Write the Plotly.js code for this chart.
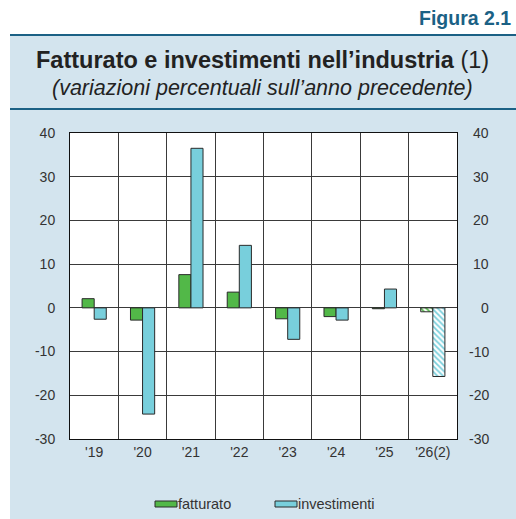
<!DOCTYPE html>
<html>
<head>
<meta charset="utf-8">
<script src="https://cdn.plot.ly/plotly-3.0.1.min.js"></script>
<style>
html,body{margin:0;padding:0;background:#fff;}
#chart{width:516px;height:519px;}
</style>
</head>
<body>
<div id="chart"></div>
<script>
// ---- data ----
const categories = ["'19", "'20", "'21", "'22", "'23", "'24", "'25", "'26(2)"];
const fatturato = [2.1, -2.8, 7.6, 3.6, -2.5, -2.0, -0.2, -0.9];
const investimenti = [-2.6, -24.3, 36.5, 14.3, -7.2, -2.8, 4.3, -15.7];
const forecast = [false, false, false, false, false, false, false, true];
const yTickVals = [-30, -20, -10, 0, 10, 20, 30, 40];
const yTickText = ["-30", "-20", "-10", "0", "10", "20", "30", "40"];
const seriesNames = ["fatturato", "investimenti"];

// ---- style ----
const W = 516, H = 519;
const M = {l: 70, r: 59, t: 133, b: 80};
const PW = W - M.l - M.r, PH = H - M.t - M.b;
const xp = px => (px - M.l) / PW;
const yp = py => (H - M.b - py) / PH;
const GREEN = '#52b848', BLUE = '#78cfdc', EDGE = '#2a2a2a';
const BG = '#d3e4ee', TEAL = '#1b6185', TXT = '#333333';
const FONT = 'Liberation Sans, Arial, sans-serif';
const TICK = 14;

function barTrace(name, vals, color) {
  return {
    type: 'bar', name: name, x: categories, y: vals,
    marker: {
      color: color,
      line: {color: EDGE, width: 1},
      pattern: {
        shape: forecast.map(f => f ? '\\' : ''),
        fgcolor: color, bgcolor: 'white', size: 4, solidity: 0.45
      }
    },
    showlegend: false, hoverinfo: 'x+y'
  };
}

const traces = [
  barTrace(seriesNames[0], fatturato, GREEN),
  barTrace(seriesNames[1], investimenti, BLUE)
];

const annotations = [
  {text: '<b>Figura 2.1</b>', xref: 'paper', yref: 'paper', x: xp(513), y: yp(18),
   xanchor: 'right', yanchor: 'middle', showarrow: false,
   font: {family: FONT, size: 19.5, color: TEAL}},
  {text: '<b>Fatturato e investimenti nell’industria</b> (1)', xref: 'paper', yref: 'paper',
   x: xp(262), y: yp(60), xanchor: 'center', yanchor: 'middle', showarrow: false,
   font: {family: FONT, size: 23.5, color: '#222'}},
  {text: '<i>(variazioni percentuali sull’anno precedente)</i>', xref: 'paper', yref: 'paper',
   x: xp(262), y: yp(88), xanchor: 'center', yanchor: 'middle', showarrow: false,
   font: {family: FONT, size: 21.5, color: '#222'}},
  {text: seriesNames[0], xref: 'paper', yref: 'paper', x: xp(176), y: yp(504),
   xanchor: 'left', yanchor: 'middle', showarrow: false,
   font: {family: FONT, size: 14.5, color: TXT}},
  {text: seriesNames[1], xref: 'paper', yref: 'paper', x: xp(296), y: yp(504),
   xanchor: 'left', yanchor: 'middle', showarrow: false,
   font: {family: FONT, size: 14.5, color: TXT}}
];
// right-hand axis labels (right-aligned as in the reference)
yTickVals.forEach((v, i) => {
  annotations.push({text: yTickText[i], xref: 'paper', yref: 'y', x: xp(491), y: v,
    xanchor: 'right', yanchor: 'middle', showarrow: false,
    font: {family: FONT, size: TICK, color: TXT}});
});

const shapes = [
  {type: 'rect', xref: 'paper', yref: 'paper', x0: xp(0), x1: xp(W), y0: yp(35), y1: yp(0),
   fillcolor: 'white', line: {width: 0}, layer: 'below'},
  {type: 'rect', xref: 'paper', yref: 'paper', x0: xp(0), x1: xp(10), y0: yp(H), y1: yp(35),
   fillcolor: 'white', line: {width: 0}, layer: 'below'},
  {type: 'line', xref: 'paper', yref: 'paper', x0: xp(10), x1: xp(W), y0: yp(35), y1: yp(35),
   line: {color: TEAL, width: 2}},
  {type: 'line', xref: 'paper', yref: 'paper', x0: xp(10), x1: xp(W), y0: yp(109), y1: yp(109),
   line: {color: TEAL, width: 2}},
  {type: 'rect', xref: 'paper', yref: 'paper', x0: xp(155), x1: xp(177), y0: yp(507), y1: yp(501),
   fillcolor: GREEN, line: {color: EDGE, width: 1}},
  {type: 'rect', xref: 'paper', yref: 'paper', x0: xp(275), x1: xp(297), y0: yp(507), y1: yp(501),
   fillcolor: BLUE, line: {color: EDGE, width: 1}}
];

const layout = {
  width: W, height: H, margin: M,
  paper_bgcolor: BG, plot_bgcolor: 'white',
  font: {family: FONT, size: TICK, color: TXT},
  showlegend: false, barmode: 'group', bargap: 0.5, bargroupgap: 0,
  xaxis: {
    type: 'category', tickson: 'boundaries', showgrid: true, gridcolor: '#3a3a3a', gridwidth: 1,
    ticks: 'outside', ticklen: 8, tickcolor: 'rgba(0,0,0,0)',
    showline: true, linecolor: '#111', linewidth: 1, mirror: true,
    tickfont: {family: FONT, size: TICK, color: TXT}, fixedrange: true
  },
  yaxis: {
    range: [-30, 40], tickvals: yTickVals, ticktext: yTickText,
    showgrid: true, gridcolor: '#3a3a3a', gridwidth: 1,
    zeroline: true, zerolinecolor: '#3a3a3a', zerolinewidth: 1,
    ticks: 'outside', ticklen: 11, tickcolor: 'rgba(0,0,0,0)',
    showline: true, linecolor: '#111', linewidth: 1, mirror: true,
    tickfont: {family: FONT, size: TICK, color: TXT}, fixedrange: true
  },
  annotations: annotations,
  shapes: shapes
};

Plotly.newPlot('chart', traces, layout, {displayModeBar: false, staticPlot: true});
</script>
</body>
</html>
